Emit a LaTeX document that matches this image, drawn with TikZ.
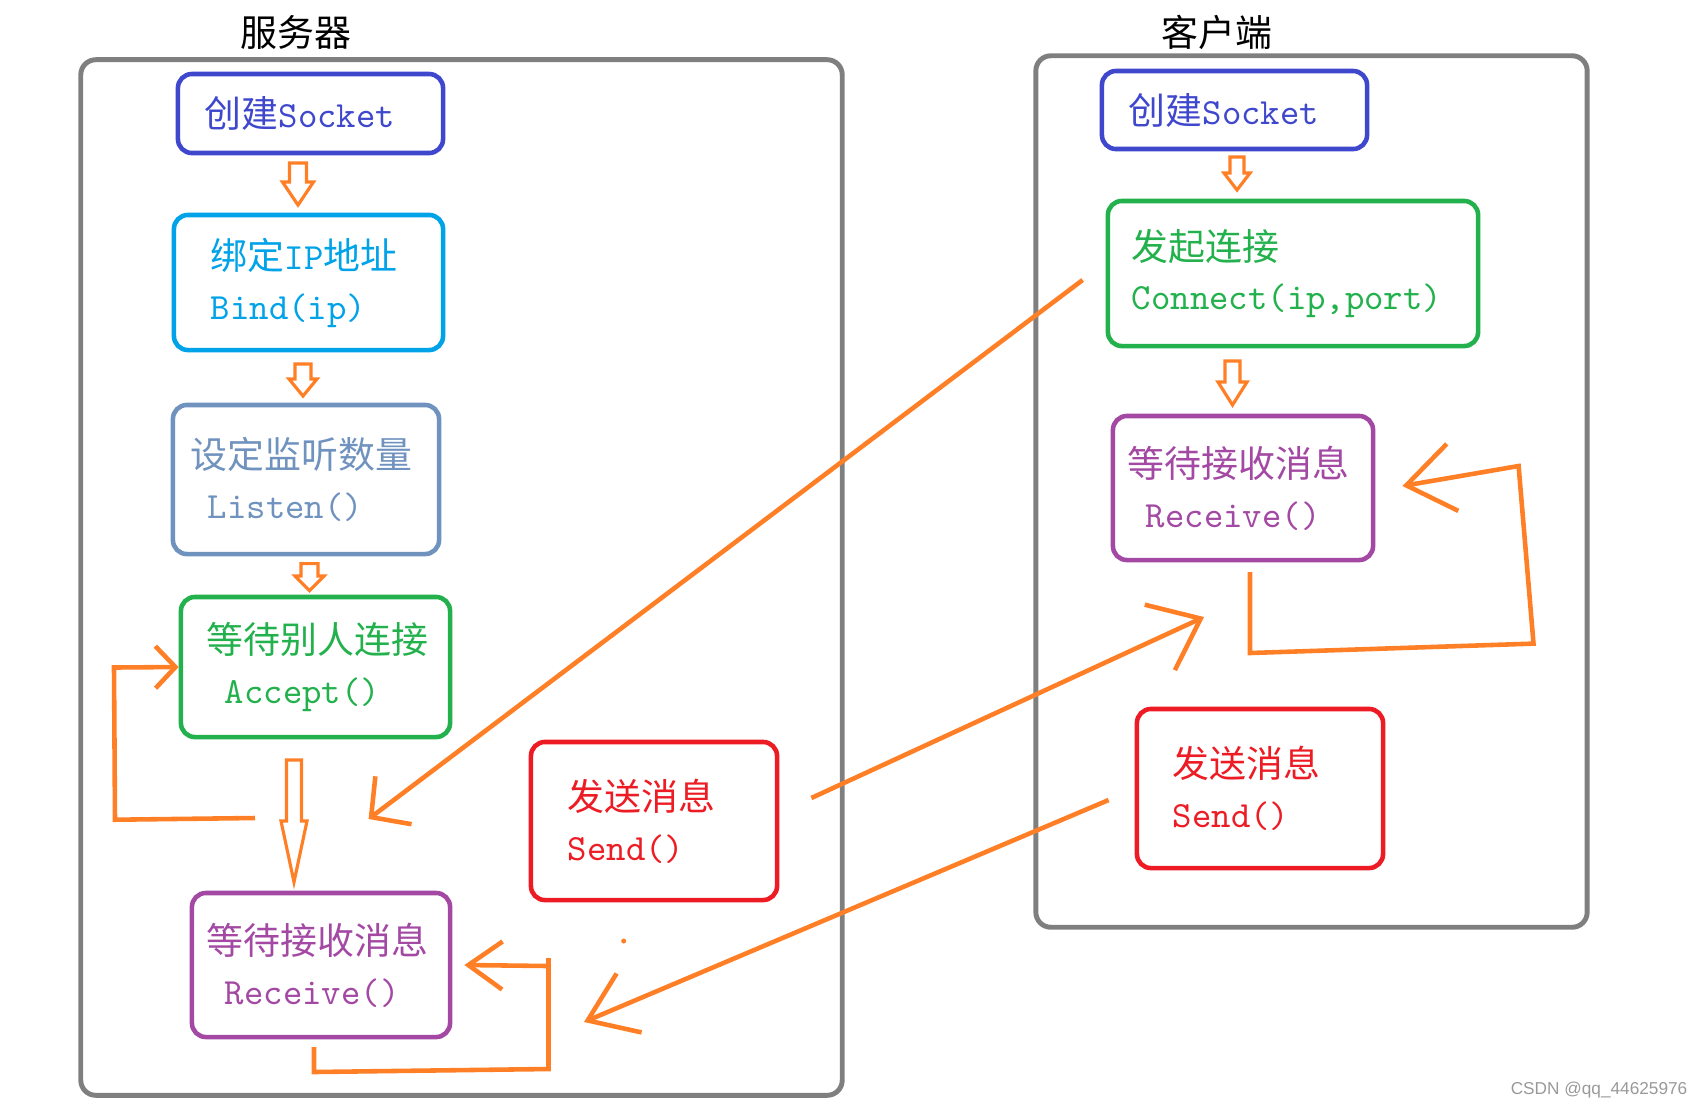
\documentclass[tikz,border=0pt]{standalone}
\usepackage{fontspec}
\setmainfont{Noto Sans CJK SC}
\newfontfamily\wmfont{Liberation Sans}
\usepackage{tikz}
\usetikzlibrary{arrows.meta}

\definecolor{indigo}{HTML}{3F48CC}
\definecolor{turq}{HTML}{00A2E8}
\definecolor{bluegray}{HTML}{7092BE}
\definecolor{paintgreen}{HTML}{22B14C}
\definecolor{paintpurple}{HTML}{A349A4}
\definecolor{paintred}{HTML}{ED1C24}
\definecolor{paintorange}{HTML}{FF7F27}
\definecolor{framegray}{HTML}{7F7F7F}

\tikzset{
    frame/.style={draw=framegray, line width=1.4pt, rounded corners=0.15cm, inner sep=0pt},
    box/.style={draw=#1, text=#1, line width=1.3pt, rounded corners=0.14cm, align=left, inner sep=0pt},
    hollow/.style={draw=paintorange, line width=0.9pt, line join=miter},
    link/.style={draw=paintorange, line width=1.3pt},
    barb/.style 2 args={-{Straight Barb[length=#1, width=#2]}}
}

\begin{document}
\begin{tikzpicture}[x=0.01cm, y=-0.01cm, font=\fontsize{10.5pt}{14.2pt}\selectfont]
    \useasboundingbox (0,0) rectangle (1703,1108);
    % Frames
    \node[frame, minimum width=7.61cm, minimum height=10.35cm] (server) at (461.5,577.5) {};
    \node[frame, minimum width=5.51cm, minimum height=8.71cm] (client) at (1311.5,491.5) {};
    \node (serverTitle) at (296,32) {服务器};
    \node (clientTitle) at (1217,32) {客户端};
    % Server
    \node[box=indigo, minimum width=2.65cm, minimum height=0.79cm, text width=2.11cm] (sSock) at (310.5,113.5) {创建\texttt{Socket}};
    \node[box=turq, minimum width=2.69cm, minimum height=1.35cm, text width=1.95cm] (sBind) at (308.5,282.5) {绑定\texttt{IP}地址\\\texttt{Bind(ip)}};
    \node[box=bluegray, minimum width=2.66cm, minimum height=1.49cm, text width=2.30cm] (sListen) at (306,479.5) {设定监听数量\\\hspace*{0.17cm}\texttt{Listen()}};
    \node[box=paintgreen, minimum width=2.69cm, minimum height=1.40cm, text width=2.17cm] (sAccept) at (315.5,667) {等待别人连接\\\hspace*{0.18cm}\texttt{Accept()}};
    \node[box=paintpurple, minimum width=2.58cm, minimum height=1.44cm, text width=2.28cm] (sRecv) at (321,965) {等待接收消息\\\hspace*{0.18cm}\texttt{Receive()}};
    \node[box=paintred, minimum width=2.46cm, minimum height=1.58cm, text width=1.72cm] (sSend) at (654,821) {发送消息\\\texttt{Send()}};
    % Client
    \node[box=indigo, minimum width=2.65cm, minimum height=0.78cm, text width=2.11cm] (cSock) at (1234.5,110) {创建\texttt{Socket}};
    \node[box=paintgreen, minimum width=3.70cm, minimum height=1.45cm, text width=3.22cm] (cConn) at (1293,273.5) {发起连接\\\texttt{Connect(ip,port)}};
    \node[box=paintpurple, minimum width=2.60cm, minimum height=1.44cm, text width=2.30cm] (cRecv) at (1243,488) {等待接收消息\\\hspace*{0.18cm}\texttt{Receive()}};
    \node[box=paintred, minimum width=2.46cm, minimum height=1.59cm, text width=1.74cm] (cSend) at (1260,788.5) {发送消息\\\texttt{Send()}};
    % Hollow arrows
    \foreach \x/\yt/\yh/\yb/\sw/\hw in {298/163/182/205/8.5/15.5, 303/364/379/396/8/14,
        309.5/563.6/576/590.7/8.5/14.5, 294/760/821/882/7.5/13,
        1237/157/173/190/7/13, 1232.5/361/382/405/7.5/14.5} {
        \draw[hollow] (\x-\sw,\yt) -- (\x+\sw,\yt) -- (\x+\sw,\yh) -- (\x+\hw,\yh)
            -- (\x,\yb) -- (\x-\hw,\yh) -- (\x-\sw,\yh) -- cycle;
    }
    % Arrows
    \coordinate (sWait) at (368.6,819);
    \coordinate (cWait) at (1204,617);
    \coordinate (sGot) at (584,1022);
    \draw[link, barb={0.28cm}{0.6cm}] ([xshift=-0.23cm, yshift=-0.065cm]cConn.west) -- (sWait);
    \draw[link, barb={0.45cm}{0.72cm}] ([xshift=0.32cm, yshift=0.23cm]sSend.east) -- (cWait);
    \draw[link, barb={0.45cm}{0.64cm}] ([xshift=-0.26cm, yshift=-0.115cm]cSend.west) -- (sGot);
    \draw[link, barb={0.2cm}{0.42cm}] (255,818) -- (115,819.7) -- (114,667.5) -- (sAccept.west);
    \draw[link] (314,1047) -- (314,1072) -- (548.5,1069) -- (548.5,958);
    \draw[link, barb={0.34cm}{0.48cm}] (548.5,966) -- ([xshift=0.12cm]sRecv.east);
    \draw[link, barb={0.47cm}{0.68cm}] (1250,572) -- (1250,653) -- (1533.5,643.6) -- (1518.6,466) -- ([xshift=0.27cm, yshift=0.02cm]cRecv.east);
    \fill[paintorange] (623.7,941) circle (0.025cm);
    % Mark
    \node[anchor=east, inner sep=0pt, font=\wmfont\fontsize{4.9pt}{6pt}\selectfont, text=black!40] (mark) at (1688,1090) {CSDN @qq\_44625976};
\end{tikzpicture}
\end{document}
